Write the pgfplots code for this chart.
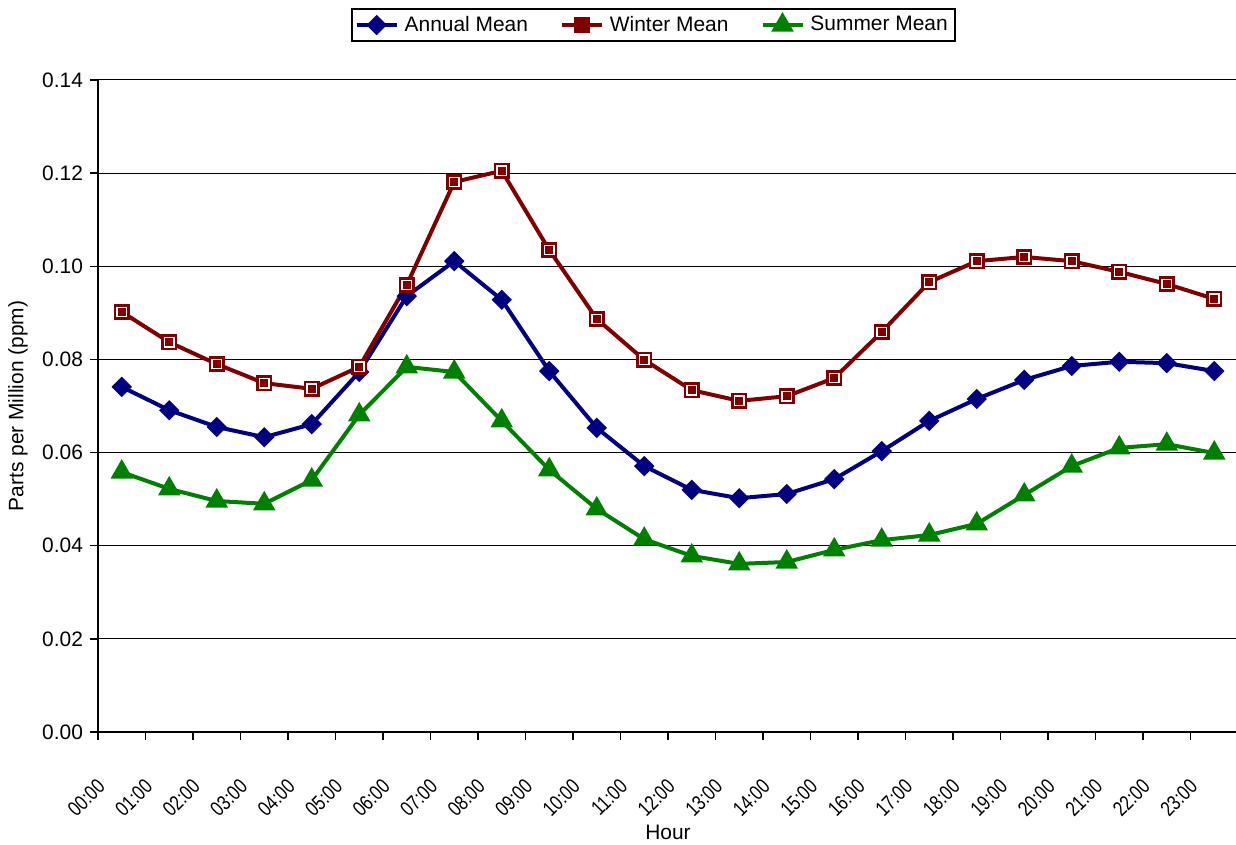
\documentclass[border=0pt]{standalone}
\usepackage{pgfplots}
\pgfplotsset{compat=1.18}
\usepackage{fontspec}
\setmainfont{Liberation Sans}

\definecolor{annual}{RGB}{0,0,128}
\definecolor{winter}{RGB}{128,0,0}
\definecolor{summer}{RGB}{0,128,0}

\newcommand{\lbl}{\fontsize{10.5}{12}\selectfont}
\newcommand{\sq}[1]{\scalebox{0.8}[1]{#1}}

\begin{document}
\begin{tikzpicture}
\begin{axis}[
  width=570bp, height=326bp, scale only axis,
  xmin=0, xmax=24, ymin=0, ymax=0.14,
  axis x line*=bottom, axis y line*=left,
  axis line style={line width=1bp, black},
  xtick={0,...,23},
  xticklabels={\sq{00:00},\sq{01:00},\sq{02:00},\sq{03:00},\sq{04:00},\sq{05:00},
               \sq{06:00},\sq{07:00},\sq{08:00},\sq{09:00},\sq{10:00},\sq{11:00},
               \sq{12:00},\sq{13:00},\sq{14:00},\sq{15:00},\sq{16:00},\sq{17:00},
               \sq{18:00},\sq{19:00},\sq{20:00},\sq{21:00},\sq{22:00},\sq{23:00}},
  ytick={0,0.02,0.04,0.06,0.08,0.10,0.12,0.14},
  scaled y ticks=false,
  yticklabel style={/pgf/number format/fixed, /pgf/number format/fixed zerofill,
                    /pgf/number format/precision=2},
  /pgf/number format/assume math mode=true,
  tick label style={font=\lbl},
  xticklabel style={yshift=-19bp, xshift=4bp, rotate=45, anchor=east},
  tick align=outside, major tick length=4bp,
  tick style={black, line width=0.75bp},
  ymajorgrids, grid style={black, line width=0.5bp},
  every axis x label/.style={at={(axis description cs:0.5,0)}, anchor=center, yshift=-50bp, font=\lbl},
  every axis y label/.style={at={(axis description cs:0,0.5)}, xshift=-40bp, rotate=90, anchor=center, font=\lbl},
  xlabel={Hour},
  ylabel={Parts per Million (ppm)},
  legend columns=3,
  legend style={at={(0.487,1)}, anchor=north, yshift=36bp, draw=black, line width=1bp,
                font=\lbl, inner sep=1.5bp,
                /tikz/every even column/.append style={column sep=14bp},
                /tikz/every odd column/.append style={column sep=1bp}},
  legend image code/.code={\draw[mark repeat=2, mark phase=2]
      plot coordinates {(0bp,0bp) (10bp,0bp) (20bp,0bp)};},
  clip=false,
]
\addplot[annual, line width=2bp, mark=square*, mark size=2.6bp,
         mark options={rotate=45, solid, fill=annual}] coordinates {
  (0.5,0.0741) (1.5,0.0691) (2.5,0.0655) (3.5,0.0633) (4.5,0.0661) (5.5,0.0773)
  (6.5,0.0936) (7.5,0.1011) (8.5,0.0928) (9.5,0.0775) (10.5,0.0653) (11.5,0.0571)
  (12.5,0.0520) (13.5,0.0502) (14.5,0.0511) (15.5,0.0543) (16.5,0.0603) (17.5,0.0668)
  (18.5,0.0715) (19.5,0.0756) (20.5,0.0786) (21.5,0.0795) (22.5,0.0792) (23.5,0.0775)
};
\addlegendentry{Annual Mean}
\addplot[winter, line width=2bp, mark=square*, mark size=3.7bp,
         mark options={solid, fill=winter, line width=0.8bp}] coordinates {
  (0.5,0.0902) (1.5,0.0837) (2.5,0.0790) (3.5,0.0749) (4.5,0.0737) (5.5,0.0784)
  (6.5,0.0960) (7.5,0.1181) (8.5,0.1205) (9.5,0.1035) (10.5,0.0887) (11.5,0.0799)
  (12.5,0.0734) (13.5,0.0711) (14.5,0.0721) (15.5,0.0760) (16.5,0.0859) (17.5,0.0966)
  (18.5,0.1011) (19.5,0.1020) (20.5,0.1011) (21.5,0.0988) (22.5,0.0962) (23.5,0.0930)
};
\addlegendentry{Winter Mean}
\addplot[forget plot, only marks, white, mark=square, mark size=2.4bp,
         mark options={line width=0.6bp}] coordinates {
  (0.5,0.0902) (1.5,0.0837) (2.5,0.0790) (3.5,0.0749) (4.5,0.0737) (5.5,0.0784)
  (6.5,0.0960) (7.5,0.1181) (8.5,0.1205) (9.5,0.1035) (10.5,0.0887) (11.5,0.0799)
  (12.5,0.0734) (13.5,0.0711) (14.5,0.0721) (15.5,0.0760) (16.5,0.0859) (17.5,0.0966)
  (18.5,0.1011) (19.5,0.1020) (20.5,0.1011) (21.5,0.0988) (22.5,0.0962) (23.5,0.0930)
};
\addplot[summer, line width=2bp, mark=triangle*, mark size=4.5bp,
         mark options={solid, fill=summer}] coordinates {
  (0.5,0.0558) (1.5,0.0522) (2.5,0.0496) (3.5,0.0490) (4.5,0.0541) (5.5,0.0681)
  (6.5,0.0784) (7.5,0.0773) (8.5,0.0668) (9.5,0.0563) (10.5,0.0479) (11.5,0.0414)
  (12.5,0.0378) (13.5,0.0361) (14.5,0.0365) (15.5,0.0391) (16.5,0.0412) (17.5,0.0423)
  (18.5,0.0447) (19.5,0.0509) (20.5,0.0571) (21.5,0.0610) (22.5,0.0618) (23.5,0.0599)
};
\addlegendentry{Summer Mean}
\end{axis}
\pgfresetboundingbox
\path[use as bounding box] (-49bp,-56.5bp) rectangle (569bp,366bp);
\end{tikzpicture}
\end{document}
